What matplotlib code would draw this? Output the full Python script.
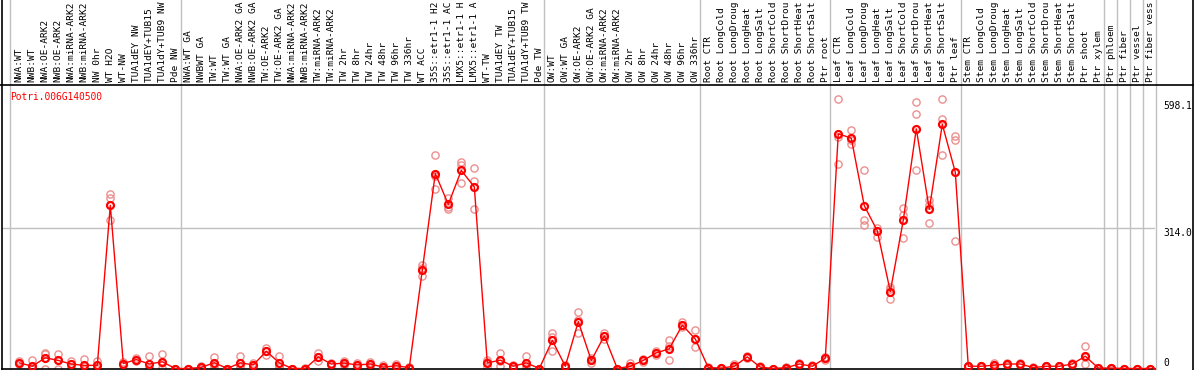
import matplotlib
matplotlib.use("Agg")
import matplotlib.pyplot as plt
from matplotlib.transforms import blended_transform_factory

gene = "Potri.006G140500"

# labels as far as they show in the header (14 characters)
samples = [
    "NWA:WT", "NWB:WT", "NWA:OE-ARK2", "NWB:OE-ARK2", "NWA:miRNA-ARK2",
    "NWB:miRNA-ARK2", "NW 0hr", "WT H2O", "WT-NW", "TUA1dEY NW",
    "TUA1dEY+TUB15", "TUA1dY+TUB9 NW", "Pde NW",
    "NWA:WT GA", "NWBWT GA", "TW:WT", "TW:WT GA", "NWA:OE-ARK2 GA",
    "NWB:OE-ARK2 GA", "TW:OE-ARK2", "TW:OE-ARK2 GA", "NWA:miRNA-ARK2",
    "NWB:miRNA-ARK2", "TW:miRNA-ARK2", "TW:miRNA-ARK2", "TW 2hr", "TW 8hr",
    "TW 24hr", "TW 48hr", "TW 96hr", "TW 336hr", "WT ACC",
    "35S::etr1-1 H2", "35S::etr1-1 AC", "LMX5::etr1-1 H",
    "LMX5::etr1-1 A", "WT-TW", "TUA1dEY TW", "TUA1dEY+TUB15",
    "TUA1dY+TUB9 TW", "Pde TW",
    "OW:WT", "OW:WT GA", "OW:OE-ARK2", "OW:OE-ARK2 GA", "OW:miRNA-ARK2",
    "OW:miRNA-ARK2", "OW 2hr", "OW 8hr", "OW 24hr", "OW 48hr", "OW 96hr",
    "OW 336hr",
    "Root CTR", "Root LongCold", "Root LongDroug", "Root LongHeat",
    "Root LongSalt", "Root ShortCold", "Root ShortDrou", "Root ShortHeat",
    "Root ShortSalt", "Ptr root",
    "Leaf CTR", "Leaf LongCold", "Leaf LongDroug", "Leaf LongHeat",
    "Leaf LongSalt", "Leaf ShortCold", "Leaf ShortDrou", "Leaf ShortHeat",
    "Leaf ShortSalt", "Ptr leaf",
    "Stem CTR", "Stem LongCold", "Stem LongDroug", "Stem LongHeat",
    "Stem LongSalt", "Stem ShortCold", "Stem ShortDrou", "Stem ShortHeat",
    "Stem ShortSalt", "Ptr shoot", "Ptr xylem",
    "Ptr phloem", "Ptr fiber", "Ptr vessel", "Ptr fiber vess"]

# last sample index of each group (a grey separator follows it)
group_ends = [12, 40, 52, 62, 72, 83, 84, 85, 86, 87]

mean = [12.6, 5, 24, 18, 10, 7, 7, 365, 11, 20, 10, 15, 0,
        0, 2.5, 13, 0, 12.6, 8, 38.6, 12.6, 0, 0, 26, 10, 12, 8, 10, 3, 6,
        2, 220, 436, 367, 443, 406, 12.6, 18.6, 5, 12.6, 0,
        63, 5, 105, 18, 73, 0, 5, 18, 35, 44, 97, 66,
        2, 1, 5, 26, 3, 0, 2, 10, 5, 23,
        525, 515, 364, 308, 172, 332, 536, 356, 546, 439,
        5, 5, 7.5, 10, 10, 2, 5, 5, 10, 27.5, 1,
        1, 0, 0, 0]

rep_a = [16, 18, 34, 32, 16, 21, 17, 391, 14, 24, 29, 33, 0,
         0, 5, 26, 0, 29, 12, 46, 29, 0, 1, 35, 12, 16, 13, 15, 8, 11,
         4, 232, 477, 382, 462, 449, 20, 35, 8, 29, 0,
         79, 8, 127, 24, 80, 0, 13, 21, 40, 63, 103, 85,
         3, 2, 9, 29, 5, 0, 4, 12, 7, 26,
         603, 534, 443, 315, 183, 358, 595, 376, 603, 521,
         6, 6, 12, 13, 13, 3, 6, 6, 13, 51, 1,
         1, 0, 0, 0]

rep_b = [13, 0, 32, 18, 10, 0, 4, 381, 11, 20, 2, 12, 0,
         0, 2, 10, 0, 6, 8, 40, 6, 0, 0, 26, 10, 12, 8, 10, 1, 6,
         1, 225, 430, 362, 455, 419, 14, 16, 5, 8, 0,
         70, 5, 108, 18, 73, 0, 2, 18, 35, 50, 97, 66,
         2, 1, 5, 26, 3, 0, 2, 10, 5, 23,
         517, 512, 332, 308, 178, 343, 569, 366, 558, 512,
         5, 5, 8, 10, 10, 2, 5, 5, 10, 25, 1,
         1, 0, 0, 0]

rep_c = [9, 0, 0, 0, 4, 0, 0, 333, 8, 16, 0, 2, 0,
         0, 0, 3, 0, 3, 4, 30, 3, 0, 0, 16, 8, 8, 3, 5, 0, 1,
         0, 207, 402, 356, 414, 356, 4, 5, 2, 1, 0,
         40, 2, 79, 12, 67, 0, 0, 14, 30, 20, 92, 48,
         1, 0, 1, 23, 1, 0, 0, 8, 3, 20,
         458, 503, 322, 295, 155, 291, 445, 325, 477, 285,
         4, 4, 3, 7, 7, 1, 4, 4, 7, 10, 0,
         0, 0, 0, 0]

y_ticks = [0, 314.0, 598.1]

W, H = 1194, 370
fig = plt.figure(figsize=(W / 100, H / 100), dpi=100)
fig.patch.set_facecolor("white")

# data area in pixels: x 2..1155, y 85..368.5 (from top)
ax = fig.add_axes([2 / W, 1 - 368.5 / H, 1153 / W, 283.5 / H])
x = list(range(len(samples)))
ax.set_xlim((2 - 19.3) / 13, (1155 - 19.3) / 13)
ax.set_ylim(0, 634)
ax.set_xticks([])
ax.set_yticks([])
for s in ["top", "right", "left"]:
    ax.spines[s].set_visible(False)
ax.spines["bottom"].set_color("black")
ax.spines["bottom"].set_linewidth(1.2)

grey = "#c0c0c0"
top_ext = 1 + 85 / 283.5
for e in [-0.72] + [g + 0.4 for g in group_ends]:
    ax.axvline(e, ymin=-0.01, ymax=top_ext, color=grey, lw=1, clip_on=False, zorder=1)
ax.axhline(314.0, color=grey, lw=1, zorder=1)

mono = "DejaVu Sans Mono"
for r in (rep_a, rep_b, rep_c):
    ax.plot(x, r, linestyle="none", marker="o", ms=5.2, mfc="none",
            mec="#ec8f8f", mew=1.0, zorder=2, clip_on=False)
ax.plot(x, mean, color="#ff0000", lw=1.0, zorder=3, clip_on=False)
ax.plot(x, mean, linestyle="none", marker="o", ms=5.0, mfc="none",
        mec="#ff0000", mew=1.6, zorder=4, clip_on=False)

# sample labels in the header
for i, s in enumerate(samples):
    ax.text(i, 1 + 3 / 283.5, s, rotation=90, ha="center", va="bottom",
            transform=blended_transform_factory(ax.transData, ax.transAxes),
            family=mono, fontsize=6.8, color="black", clip_on=False)

ax.text(8 / 1153, 1 - 12 / 283.5, gene, transform=ax.transAxes, ha="left",
        va="center", family=mono, fontsize=6.9, color="#ff0000")

# y labels on the right
tr = blended_transform_factory(ax.transAxes, ax.transData)
for v in y_ticks:
    ax.text((1163 - 2) / 1153, v, "0" if v == 0 else f"{v:.1f}", transform=tr,
            ha="left", va="bottom" if v == 0 else "top", family=mono,
            fontsize=6.9, color="black", clip_on=False)

# frame lines
fig.add_artist(plt.Line2D([0, 1], [1 - 85 / H, 1 - 85 / H],
                          transform=fig.transFigure, color="black", lw=1.2))
fig.add_artist(plt.Line2D([1.5 / W, 1.5 / W], [0, 1],
                          transform=fig.transFigure, color="black", lw=1.2))
fig.add_artist(plt.Line2D([1 - 1 / W, 1 - 1 / W], [0, 1],
                          transform=fig.transFigure, color="black", lw=1.2))

fig.savefig("out.png", dpi=100)
